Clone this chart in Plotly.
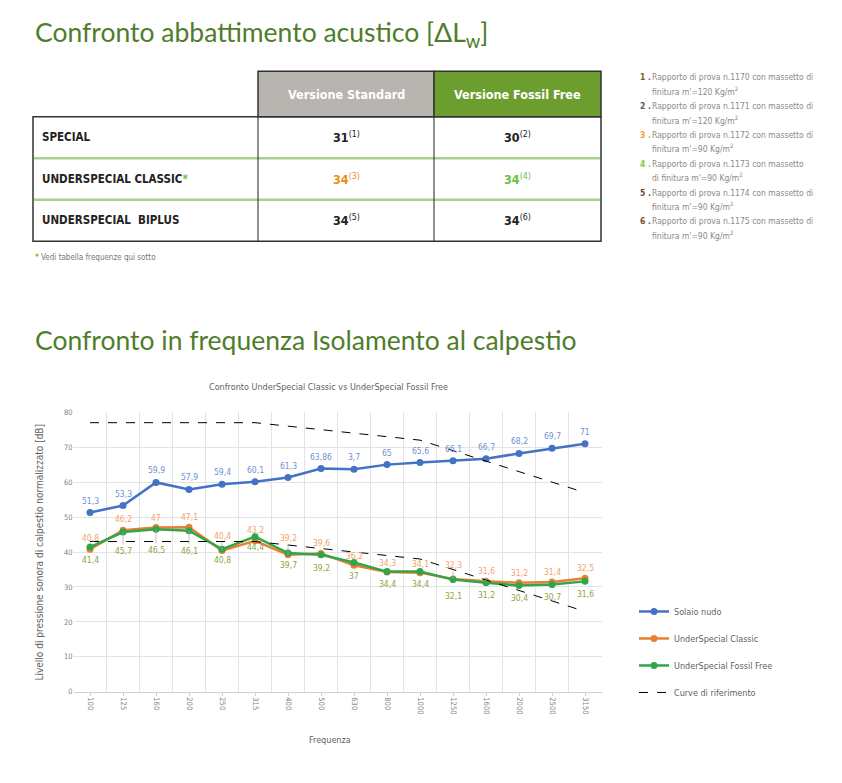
import plotly.graph_objects as go

# the page body has an 8px margin plus a little slack below the figure,
# so the figure is a bit smaller than the 842x783 window
OFF = 8
FW, FH = 826, 758

# ---- data ----
freqs = ["100", "125", "160", "200", "250", "315", "400", "500", "630", "800",
         "1000", "1250", "1600", "2000", "2500", "3150"]

solaio = [51.3, 53.3, 59.9, 57.9, 59.4, 60.1, 61.3, 63.86, 63.7, 65,
          65.6, 66.1, 66.7, 68.2, 69.7, 71]
classic = [40.8, 46.2, 47, 47.1, 40.4, 43.2, 39.2, 39.6, 36.2, 34.3,
           34.1, 32.3, 31.6, 31.2, 31.4, 32.5]
fossil = [41.4, 45.7, 46.5, 46.1, 40.8, 44.4, 39.7, 39.2, 37, 34.4,
          34.4, 32.1, 31.2, 30.4, 30.7, 31.6]
ref_high = [77, 77, 77, 77, 77, 77, 76, 75, 74, 73, 72, 69, 66, 63, 60, 57]
ref_low = [43, 43, 43, 43, 43, 43, 42, 41, 40, 39, 38, 35, 32, 29, 26, 23]

# data label texts as printed in the chart
solaio_labels = ["51,3", "53,3", "59,9", "57,9", "59,4", "60,1", "61,3", "63,86",
                 "3,7", "65", "65,6", "66,1", "66,7", "68,2", "69,7", "71"]

table_rows = ["SPECIAL", "UNDERSPECIAL CLASSIC", "UNDERSPECIAL  BIPLUS"]
table_cols = ["Versione Standard", "Versione Fossil Free"]
std_values = [31, 34, 34]
ff_values = [30, 34, 34]
std_refs = [1, 3, 5]
ff_refs = [2, 4, 6]

notes = [
    ("Rapporto di prova n.1170 con massetto di", "finitura m'=120 Kg/m<sup>2</sup>"),
    ("Rapporto di prova n.1171 con massetto di", "finitura m'=120 Kg/m<sup>2</sup>"),
    ("Rapporto di prova n.1172 con massetto di", "finitura m'=90 Kg/m<sup>2</sup>"),
    ("Rapporto di prova n.1173 con massetto", "di finitura m'=90 Kg/m<sup>2</sup>"),
    ("Rapporto di prova n.1174 con massetto di", "finitura m'=90 Kg/m<sup>2</sup>"),
    ("Rapporto di prova n.1175 con massetto di", "finitura m'=90 Kg/m<sup>2</sup>"),
]


def fmt(v):
    return ("%g" % v).replace(".", ",")


def px(x):
    return (x - OFF) / FW


def py(y):
    return 1 - (y - OFF) / FH


NARROW = "DejaVu Sans Condensed, Liberation Sans Narrow, sans-serif"
TITLE_FONT = "Lato, Open Sans, sans-serif"
GREEN_TITLE = "#4f7d2b"
BLUE, ORANGE, GREEN = "#4472c4", "#ed7d31", "#2fa64a"

x_idx = list(range(len(freqs)))

fig = go.Figure()

fig.add_scatter(x=x_idx, y=solaio, name="Solaio nudo", mode="lines+markers",
                line=dict(color=BLUE, width=2.5), marker=dict(size=7, color=BLUE),
                legendgroup="a")
fig.add_scatter(x=x_idx, y=classic, name="UnderSpecial Classic", mode="lines+markers",
                line=dict(color=ORANGE, width=2.5), marker=dict(size=7, color=ORANGE),
                legendgroup="b")
fig.add_scatter(x=x_idx, y=fossil, name="UnderSpecial Fossil Free", mode="lines+markers",
                line=dict(color=GREEN, width=2.5), marker=dict(size=7, color=GREEN),
                legendgroup="c")
fig.add_scatter(x=x_idx, y=ref_high, name="Curve di riferimento", mode="lines",
                line=dict(color="black", width=1, dash="dash"), legendgroup="d")
fig.add_scatter(x=x_idx, y=ref_low, name="Curve di riferimento", mode="lines",
                line=dict(color="black", width=1, dash="dash"), legendgroup="d",
                showlegend=False)

annotations = []


def note_text(x, y, text, size, color, xanchor="center", **kw):
    annotations.append(dict(x=px(x), y=py(y), xref="paper", yref="paper",
                            xanchor=xanchor, yanchor="middle", text=text,
                            showarrow=False, font=dict(family=kw.pop("family", NARROW),
                                                       size=size, color=color), **kw))


# data labels (pixel offsets are styling)
orange_dy = [-11, -11, -10, -10, -15, -11, -17, -10, -9, -9, -9, -14, -10, -10, -10, -10]
green_dy = [13, 19, 21, 20, 11, 10, 12, 13, 13, 12, 12, 16, 12, 12, 12, 13]
orange_leader = [4, 6, 11, 12]
green_leader = [1, 2, 3]

for i in x_idx:
    annotations.append(dict(x=i, y=solaio[i], xref="x", yref="y", text=solaio_labels[i],
                            showarrow=False, yshift=12,
                            font=dict(family=NARROW, size=8.5, color="#6f91d2")))
    annotations.append(dict(x=i, y=classic[i], xref="x", yref="y", text=fmt(classic[i]),
                            showarrow=True, ax=0, ay=orange_dy[i], arrowhead=0,
                            arrowwidth=0.7,
                            arrowcolor="#a6a6a6" if i in orange_leader else "rgba(0,0,0,0)",
                            font=dict(family=NARROW, size=8.5, color="#f3a26a")))
    annotations.append(dict(x=i, y=fossil[i], xref="x", yref="y", text=fmt(fossil[i]),
                            showarrow=True, ax=0, ay=green_dy[i], arrowhead=0,
                            arrowwidth=0.7,
                            arrowcolor="#a6a6a6" if i in green_leader else "rgba(0,0,0,0)",
                            font=dict(family=NARROW, size=8.5, color="#8aa53c")))

# page titles
note_text(33, 30, "Confronto abbattimento acustico [ΔL<sub>w</sub>]", 26.5, GREEN_TITLE,
          xanchor="left", family=TITLE_FONT)
note_text(33, 340, "Confronto in frequenza Isolamento al calpestio", 26.5, GREEN_TITLE,
          xanchor="left", family=TITLE_FONT)

# table
def pline(x0, y0, x1, y1, color, width):
    return dict(type="line", xref="paper", yref="paper", x0=px(x0), x1=px(x1),
                y0=py(y0), y1=py(y1), line=dict(color=color, width=width))


shapes = [
    dict(type="rect", xref="paper", yref="paper", x0=px(258), x1=px(434), y0=py(114), y1=py(68),
         fillcolor="#b8b4af", line=dict(color="#333333", width=1.5)),
    dict(type="rect", xref="paper", yref="paper", x0=px(434), x1=px(601), y0=py(114), y1=py(68),
         fillcolor="#6b9e2f", line=dict(color="#333333", width=1.5)),
    pline(34, 156, 600, 156, "#a9d18e", 2.5),
    pline(34, 198, 600, 198, "#a9d18e", 2.5),
    pline(258, 114, 258, 240, "#444444", 1.2),
    pline(434, 114, 434, 240, "#444444", 1.2),
    dict(type="rect", xref="paper", yref="paper", x0=px(33), x1=px(601), y0=py(240), y1=py(114),
         line=dict(color="#333333", width=1.5)),
]

for col_x, label in zip([346, 517], table_cols):
    note_text(col_x, 91, "<b>%s</b>" % label, 12.5, "white")

row_y = [135, 177, 219]
std_colors = ["#222222", "#e8901a", "#222222"]
ff_colors = ["#222222", "#6cbf45", "#222222"]
for r, name in enumerate(table_rows):
    txt = "<b>%s</b>" % name
    if r == 1:
        txt += "<span style='color:#6cbf45'><b>*</b></span>"
    note_text(40, row_y[r], txt, 11.5, "#222222", xanchor="left")
    note_text(346, row_y[r], "<b>%d</b><sup>(%d)</sup>" % (std_values[r], std_refs[r]),
              12.5, std_colors[r])
    note_text(517, row_y[r], "<b>%d</b><sup>(%d)</sup>" % (ff_values[r], ff_refs[r]),
              12.5, ff_colors[r])

note_text(33, 256, "<span style='color:#6cbf45'><b>*</b></span> Vedi tabella frequenze qui sotto",
          8, "#777777", xanchor="left")

# footnotes on the right
note_colors = ["#7a5c2e", "#5a5a5a", "#f0a030", "#8cc63f", "#6b4e3a", "#7a5230"]
for k, (l1, l2) in enumerate(notes):
    y1 = 73.5 + k * 29.3
    note_text(638, y1, "<b>%d .</b>" % (k + 1), 8.5, note_colors[k], xanchor="left")
    note_text(650, y1, l1, 8.5, "#8a8a8a", xanchor="left")
    note_text(650, y1 + 14, l2, 8.5, "#8a8a8a", xanchor="left")

# chart texts
note_text(328, 387, "Confronto UnderSpecial Classic vs UnderSpecial Fossil Free", 9, "#5f5f5f")
note_text(40, 555, "Livello di pressione sonora di calpestio normalizzato [dB]", 10, "#5f5f5f",
          textangle=-90)
note_text(330, 745, "Frequenza", 9, "#5f5f5f")

fig.update_layout(
    width=FW, height=FH,
    margin=dict(l=0, r=0, t=0, b=0),
    paper_bgcolor="white", plot_bgcolor="white",
    shapes=shapes,
    annotations=annotations,
    legend=dict(x=px(634), y=py(600), xanchor="left", yanchor="top",
                traceorder="grouped", tracegroupgap=8,
                font=dict(family=NARROW, size=9, color="#5f5f5f")),
    xaxis=dict(domain=[px(73.5), px(601.5)], range=[-0.5, len(freqs) - 0.5],
               tickmode="array", tickvals=x_idx, ticktext=freqs, tickangle=90,
               showgrid=False, zeroline=False, showline=True, linecolor="#d0d0d0",
               ticks="outside", ticklen=3, tickcolor="#d0d0d0",
               minor=dict(tick0=0.5, dtick=1, showgrid=True, gridcolor="#e3e3e3",
                          ticks=""),
               tickfont=dict(family=NARROW, size=7.5, color="#7f7f7f")),
    yaxis=dict(domain=[py(696), py(413)], range=[0, 80], dtick=10,
               showgrid=True, gridcolor="#e3e3e3", zeroline=False,
               tickfont=dict(family=NARROW, size=7.5, color="#7f7f7f")),
)

fig.write_html("out.html")
